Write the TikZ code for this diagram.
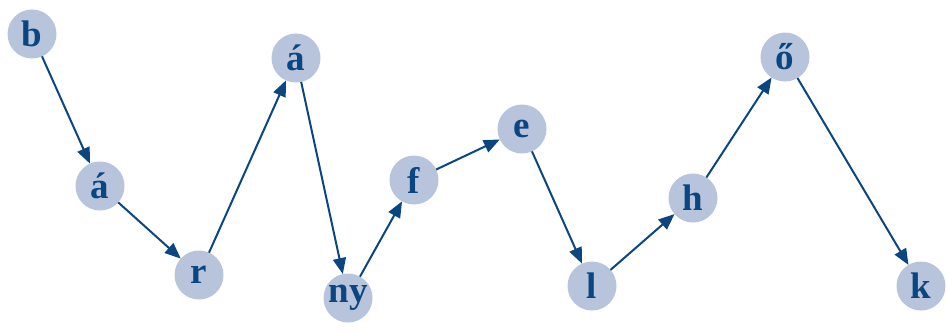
\documentclass[tikz,border=0pt]{standalone}
\usepackage{fontspec}
\setmainfont{Liberation Serif}
\usetikzlibrary{arrows.meta}
\definecolor{nodefill}{HTML}{B8C4DC}
\definecolor{ink}{HTML}{0B4680}
\begin{document}
\begin{tikzpicture}[x=1pt,y=-1pt,
  letter/.style={circle,fill=nodefill,draw=none,minimum size=49pt,inner sep=0pt,outer sep=0pt,
    text=ink,font=\fontsize{37}{37}\selectfont\bfseries},
  link/.style={draw=ink,line width=2pt,-{Triangle[length=16pt,width=13pt]}}]
\useasboundingbox (0,0) rectangle (946,333);
\node[letter] (b)  at (32,34)   {b};
\node[letter] (a1) at (100,186) {á};
\node[letter] (r)  at (199,275) {r};
\node[letter] (a2) at (296,58)  {á};
\node[letter] (ny) at (348,298) {ny};
\node[letter] (f)  at (414,180) {f};
\node[letter] (e)  at (522,129) {e};
\node[letter] (l)  at (592,286) {l};
\node[letter] (h)  at (693,198) {h};
\node[letter] (o)  at (785,57)  {ő};
\node[letter] (k)  at (921,286) {k};
\draw[link] (b) -- (a1);
\draw[link] (a1) -- (r);
\draw[link] (r) -- (a2);
\draw[link] (a2) -- (ny);
\draw[link] (ny) -- (f);
\draw[link] (f) -- (e);
\draw[link] (e) -- (l);
\draw[link] (l) -- (h);
\draw[link] (h) -- (o);
\draw[link] (o) -- (k);
\end{tikzpicture}
\end{document}
